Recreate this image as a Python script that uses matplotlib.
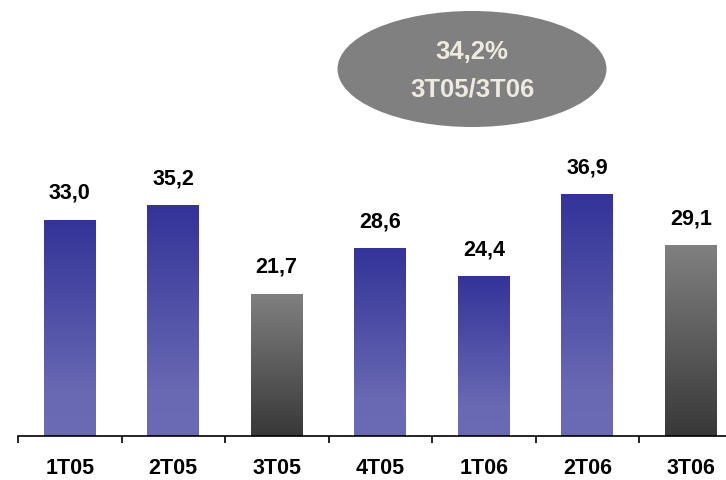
import numpy as np
import matplotlib.pyplot as plt
from matplotlib.patches import Ellipse
from matplotlib.colors import LinearSegmentedColormap

plt.rcParams['font.family'] = ['Liberation Sans', 'DejaVu Sans']

quarters = ['1T05', '2T05', '3T05', '4T05', '1T06', '2T06', '3T06']
values = [33.0, 35.2, 21.7, 28.6, 24.4, 36.9, 29.1]
is_q3 = [False, False, True, False, False, False, True]
growth_label = '34,2%\n3T05/3T06'

blue_cmap = LinearSegmentedColormap.from_list('blue', [(0, '#6b6bb5'), (0.2, '#6868b3'), (1, '#333399')])
grey_cmap = LinearSegmentedColormap.from_list('grey', ['#383838', '#808080'])

fig = plt.figure(figsize=(7.26, 4.80), dpi=100)
ax = fig.add_axes([18 / 726, 44 / 480, 1 - 18 / 726, 1 - 44 / 480])

grad = np.linspace(0, 1, 256).reshape(-1, 1)
width = 0.5
for i, v in enumerate(values):
    cmap = grey_cmap if is_q3[i] else blue_cmap
    ax.imshow(grad, extent=[i - width / 2, i + width / 2, 0, v], origin='lower',
              aspect='auto', cmap=cmap, interpolation='bicubic', zorder=2)
    ax.text(i, v + 2.5, ('%.1f' % v).replace('.', ','), ha='center', va='bottom',
            fontsize=15.5, fontweight='bold', color='black')

ax.set_xticks(range(len(quarters)))
ax.set_xticklabels(quarters, fontsize=15.5, fontweight='bold')
ax.set_xticks(np.arange(-0.5, len(quarters), 1), minor=True)
ax.tick_params(axis='x', which='major', length=0, pad=16)
ax.tick_params(axis='x', which='minor', length=5, width=1.2, direction='out')
ax.set_yticks([])
ax.set_xlim(-0.5, -0.5 + 708 / 103.5)
ax.set_ylim(0, 436 / 6.54)
for s in ['top', 'right', 'left']:
    ax.spines[s].set_visible(False)
ax.spines['bottom'].set_linewidth(1.2)

# growth bubble, in pixel coordinates
ell = Ellipse((472, 480 - 69), 269, 116, transform=None, facecolor='#808080',
              edgecolor='none', zorder=5)
fig.patches.append(ell)
fig.text(472 / 726, 1 - 71 / 480, growth_label, ha='center', va='center',
         fontsize=18.5, fontweight='bold', color='#eeeae0', linespacing=1.7, zorder=6)

fig.savefig('out.png', dpi=100)
